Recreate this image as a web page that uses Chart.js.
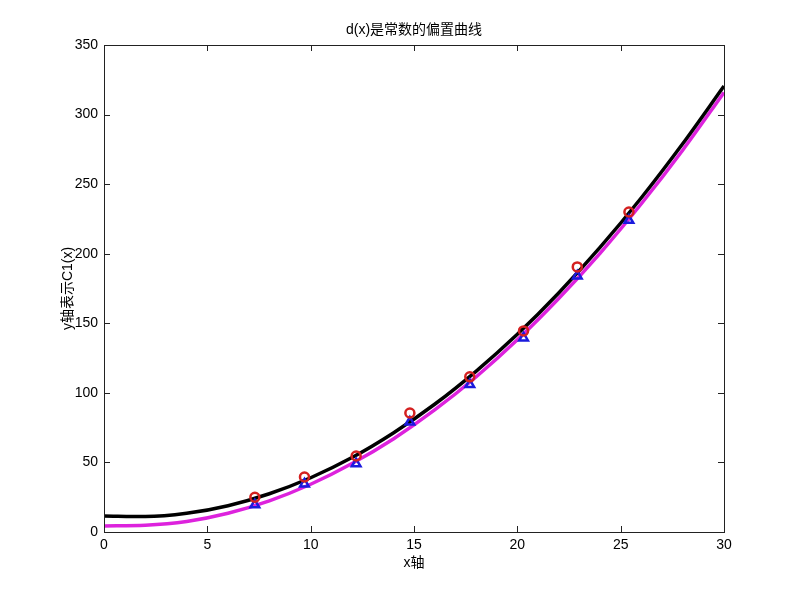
<!DOCTYPE html>
<html>
<head>
<meta charset="utf-8">
<script src="https://cdn.jsdelivr.net/npm/chart.js"></script>
<style>body{margin:0;background:#fff}</style>
</head>
<body>
<canvas id="c" width="800" height="599"></canvas>
<script>
// curves, sampled every 2 units on x
const curveX = [0, 2, 4, 6, 8, 10, 12, 14, 16, 18, 20, 22, 24, 26, 28, 30];
const blackY = [11.5, 11.1, 13.4, 18.9, 27.5, 39, 53.5, 71.2, 91.8, 115.5, 142.1, 171.8, 204.5, 240.2, 279, 320.5];
const magentaY = [4.4, 4.9, 7.6, 13.5, 22.4, 34.3, 49.2, 66.9, 87.7, 111.4, 138.1, 167.8, 200.3, 235.9, 274.4, 315.9];

// markers
const markX = [7.3, 9.7, 12.2, 14.8, 17.7, 20.3, 22.9, 25.4];
const circleY = [25, 39.5, 54.6, 85.5, 111.5, 144.5, 190.5, 230];
const triangleY = [19.5, 34.5, 49, 79, 106, 139.5, 184, 224];

const xTicks = [0, 5, 10, 15, 20, 25, 30];
const yTicks = [0, 50, 100, 150, 200, 250, 300, 350];

const font = '"Liberation Sans", Arial, "Noto Sans CJK SC", sans-serif';
const pts = (xs, ys) => xs.map((v, i) => ({x: v, y: ys[i]}));

// matlab style box with inward ticks
const boxPlugin = {
  id: 'box',
  afterDatasetsDraw(chart) {
    const {ctx, chartArea: a, scales: {x, y}} = chart;
    ctx.save();
    ctx.strokeStyle = '#222';
    ctx.lineWidth = 1;
    ctx.strokeRect(Math.round(a.left) + 0.5, Math.round(a.top) + 0.5,
      Math.round(a.right - a.left), Math.round(a.bottom - a.top));
    ctx.beginPath();
    xTicks.forEach(v => {
      const px = Math.round(x.getPixelForValue(v)) + 0.5;
      ctx.moveTo(px, a.bottom); ctx.lineTo(px, a.bottom - 6);
      ctx.moveTo(px, a.top); ctx.lineTo(px, a.top + 6);
    });
    yTicks.forEach(v => {
      const py = Math.round(y.getPixelForValue(v)) + 0.5;
      ctx.moveTo(a.left, py); ctx.lineTo(a.left + 6, py);
      ctx.moveTo(a.right, py); ctx.lineTo(a.right - 6, py);
    });
    ctx.stroke();
    ctx.restore();
  }
};

new Chart(document.getElementById('c'), {
  type: 'scatter',
  data: {
    datasets: [
      {data: pts(markX, circleY), pointStyle: 'circle', pointRadius: 4.5, pointBorderWidth: 2.5,
       borderColor: '#d42020', pointBackgroundColor: 'rgba(0,0,0,0)', showLine: false, order: 0},
      {data: pts(markX, triangleY), pointStyle: 'triangle', pointRadius: 5, pointBorderWidth: 2.5,
       borderColor: '#1a1add', pointBackgroundColor: 'rgba(0,0,0,0)', showLine: false, order: 0},
      {data: pts(curveX, magentaY), showLine: true, borderColor: '#dd22dd', borderWidth: 3.5,
       pointRadius: 0, cubicInterpolationMode: 'monotone', order: 2},
      {data: pts(curveX, blackY), showLine: true, borderColor: '#000', borderWidth: 3.5,
       pointRadius: 0, cubicInterpolationMode: 'monotone', order: 1}
    ]
  },
  options: {
    responsive: false,
    animation: false,
    devicePixelRatio: 1,
    layout: {padding: {left: 0, right: 76, top: 0, bottom: 0}},
    plugins: {
      legend: {display: false},
      tooltip: {enabled: false},
      title: {
        display: true,
        fullSize: false,
        text: 'd(x)是常数的偏置曲线',
        color: '#000',
        font: {family: font, size: 14, weight: 'normal', lineHeight: 1.2},
        padding: {top: 21.6, bottom: 6.6}
      }
    },
    scales: {
      x: {
        type: 'linear', min: 0, max: 30,
        afterFit: s => { s.height = 67; },
        afterBuildTicks: s => { s.ticks = xTicks.map(v => ({value: v})); },
        grid: {display: false, drawTicks: false},
        border: {display: false},
        ticks: {color: '#000', padding: 5, maxRotation: 0, font: {family: font, size: 14}},
        title: {display: true, text: 'x轴', color: '#000',
          font: {family: font, size: 14, lineHeight: 1.2}, padding: {top: 0, bottom: 27}}
      },
      y: {
        type: 'linear', min: 0, max: 350,
        afterFit: s => { s.width = 104; },
        afterBuildTicks: s => { s.ticks = yTicks.map(v => ({value: v})); },
        grid: {display: false, drawTicks: false},
        border: {display: false},
        ticks: {color: '#000', padding: 6, font: {family: font, size: 14}},
        title: {display: true, text: 'y轴表示C1(x)', color: '#000',
          font: {family: font, size: 14, lineHeight: 1.2}, padding: {top: 60, bottom: 0}}
      }
    }
  },
  plugins: [boxPlugin]
});
</script>
</body>
</html>
